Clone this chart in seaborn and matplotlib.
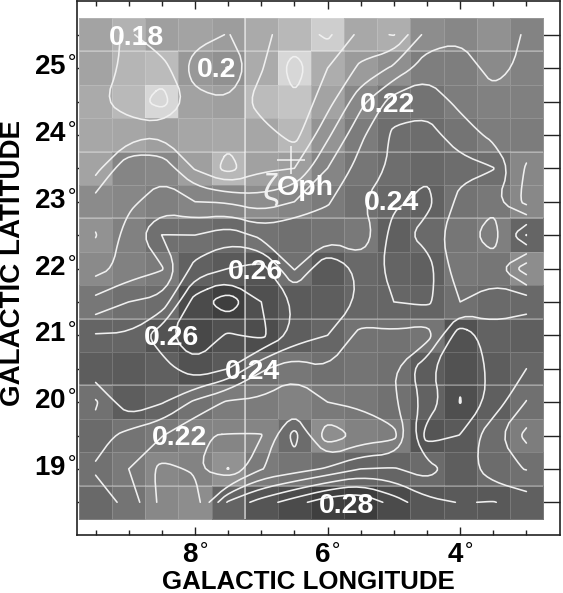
import numpy as np
import pandas as pd
import seaborn as sns
import matplotlib
matplotlib.use("Agg")
import matplotlib.pyplot as plt
from matplotlib.colors import LinearSegmentedColormap

lons = [9.5, 9.0, 8.5, 8.0, 7.5, 7.0, 6.5, 6.0, 5.5, 5.0, 4.5, 4.0, 3.5, 3.0]
lats = [25.5, 25.0, 24.5, 24.0, 23.5, 23.0, 22.5, 22.0, 21.5, 21.0, 20.5, 20.0, 19.5, 19.0, 18.5]

r255 = [.186, .178, .189, .186, .1905, .182, .176, .168, .183, .1795, .204, .208, .200, .212]
r250 = [.186, .177, .175, .195, .2005, .181, .165, .180, .192, .202, .216, .216, .206, .213]
r245 = [.182, .1755, .165, .187, .189, .175, .1715, .186, .207, .225, .227, .217, .214, .215]
r240 = [.184, .185, .189, .185, .183, .185, .176, .198, .218, .232, .233, .226, .217, .218]
r235 = [.186, .210, .207, .189, .176, .188, .190, .210, .224, .232, .238, .233, .2305, .2085]
r230 = [.205, .208, .2145, .210, .209, .204, .210, .219, .229, .238, .243, .227, .222, .207]
r225 = [.1995, .214, .2302, .230, .236, .227, .230, .226, .2213, .245, .2354, .224, .2155, .2405]
r220 = [.206, .214, .219, .244, .250, .255, .229, .250, .237, .2415, .245, .2225, .224, .204]
r215 = [.2235, .230, .233, .265, .277, .260, .249, .247, .2385, .240, .242, .230, .236, .2365]
r210 = [.2408, .241, .257, .268, .2585, .263, .2468, .240, .227, .228, .225, .2575, .243, .246]
r205 = [.248, .249, .245, .2573, .250, .2315, .2235, .2295, .226, .2295, .248, .258, .2476, .240]
r200 = [.2285, .248, .241, .228, .2185, .218, .2125, .220, .222, .2285, .2435, .2605, .246, .2295]
r195 = [.235, .226, .2205, .2105, .2095, .2095, .234, .2028, .2128, .2165, .2545, .2497, .2327, .2172]
r190 = [.2285, .220, .207, .2115, .1995, .2195, .225, .2315, .240, .241, .235, .247, .2335, .2295]
r185 = [.2365, .2265, .207, .204, .2415, .2545, .2655, .277, .280, .265, .253, .2495, .2505, .245]

rows = [r255, r250, r245, r240, r235, r230, r225, r220, r215, r210, r205, r200, r195, r190, r185]
levels = [.17, .18, .19, .20, .21, .22, .23, .24, .25, .26, .27]

label_text = ["0.18", "0.2", "0.22", "0.24", "0.26", "0.26", "0.24", "0.22", "0.28"]
label_lon = [8.88, 7.67, 5.09, 5.03, 7.08, 8.35, 7.13, 8.23, 5.71]
label_lat = [25.45, 24.97, 24.45, 22.98, 21.95, 20.96, 20.45, 19.46, 18.44]
lon_major = [8.0, 6.0, 4.0]
lat_major = [25.0, 24.0, 23.0, 22.0, 21.0, 20.0, 19.0]

sns.set_theme(style="white")
plt.rcParams["font.family"] = ["Liberation Sans", "DejaVu Sans"]

W, H = 563, 593
fig = plt.figure(figsize=(W / 100, H / 100), dpi=100)
ax = fig.add_axes([77 / W, 1 - 535 / H, (560 - 77) / W, (535 - 1) / H])

df = pd.DataFrame(rows, index=lats, columns=lons)
nodes = [(.165, 215), (.17, 200), (.18, 172), (.19, 158), (.20, 145), (.21, 133), (.22, 122),
         (.23, 112), (.24, 102), (.25, 90), (.26, 80), (.27, 70), (.28, 60), (.29, 50)]
vmin, vmax = nodes[0][0], nodes[-1][0]
cmap = LinearSegmentedColormap.from_list(
    "g", [((v - vmin) / (vmax - vmin), (g / 255,) * 3) for v, g in nodes])
sns.heatmap(df, ax=ax, cmap=cmap, vmin=vmin, vmax=vmax, cbar=False,
            linewidths=0.7, linecolor=(1, 1, 1, 0.16), square=False)

def cx(lon):
    return (lons[0] - np.asarray(lon)) / 0.5 + 0.5
def cy(lat):
    return (lats[0] - np.asarray(lat)) / 0.5 + 0.5

ax.set_xlim(-2 / 33.14, 14 + 17 / 33.14)
ax.set_ylim(15 + 16 / 33.4, -17 / 33.4)

ax.hlines([1, 4, 6, 9, 11, 14], 0, 14, color="white", alpha=0.3, lw=1.2, zorder=2)
ax.vlines([5], 0, 15, color="white", alpha=0.55, lw=1.3, zorder=2)

X, Y = np.meshgrid(cx(lons), cy(lats))
cs = ax.contour(X, Y, df.values, levels=levels, colors="#f0f0f0", linewidths=1.1, zorder=3)

def soften(p, passes=2):
    closed = np.allclose(p[0], p[-1]) and len(p) > 3
    for _ in range(passes):
        if closed:
            q = p[:-1]
            a = 0.75 * q + 0.25 * np.roll(q, -1, axis=0)
            b = 0.25 * q + 0.75 * np.roll(q, -1, axis=0)
            p = np.empty((2 * len(q), 2))
            p[0::2], p[1::2] = a, b
            p = np.vstack([p, p[:1]])
        else:
            a = 0.75 * p[:-1] + 0.25 * p[1:]
            b = 0.25 * p[:-1] + 0.75 * p[1:]
            m = np.empty((2 * len(a), 2))
            m[0::2], m[1::2] = a, b
            p = np.vstack([p[:1], m, p[-1:]])
    return p

# split each level's compound path at its MOVETO codes so that short open pieces survive
segments = []
for path in cs.get_paths():
    if len(path.vertices) == 0:
        continue
    starts = np.flatnonzero(path.codes == 1).tolist() + [len(path.vertices)]
    for a, b in zip(starts[:-1], starts[1:]):
        piece = path.vertices[a:b].copy()
        if path.codes[b - 1] == 79:
            piece[-1] = piece[0]
        segments.append(piece)
cs.remove()
for seg in segments:
    s = soften(np.asarray(seg))
    ax.plot(s[:, 0], s[:, 1], color="#f0f0f0", lw=1.15, zorder=3, solid_joinstyle="round")

for t, lo, la in zip(label_text, label_lon, label_lat):
    ax.text(cx(lo), cy(la), t, color="white", fontsize=20.5, fontweight="bold",
            ha="center", va="center", zorder=5)

ax.plot([cx(6.55)], [cy(23.62)], marker="+", ms=20, mew=1.1, color="#f4f4f4", zorder=5)
ax.text(cx(6.33), cy(23.20), "Oph", color="white", fontsize=20.5, fontweight="bold",
        ha="center", va="center", zorder=5)
ax.text(cx(6.86), cy(23.17), "ζ", color="#f0f0f0", fontsize=26,
        ha="center", va="center", zorder=5)

minor_x = [l for l in lons if l not in lon_major]
minor_y = [l for l in lats if l not in lat_major]
ax.set_xticks(cx(lon_major))
ax.set_xticklabels([f"{int(l)}" + r"$^{\circ}$" for l in lon_major], rotation=0)
ax.set_xticks(cx(minor_x), minor=True)
ax.set_yticks(cy(lat_major))
ax.set_yticklabels([f"{int(l)}" + r"$^{\circ}$" for l in lat_major], rotation=0)
ax.set_yticks(cy(minor_y), minor=True)

for lab in ax.get_xticklabels() + ax.get_yticklabels():
    lab.set_fontsize(20)
    lab.set_fontweight("bold")
    lab.set_color("black")

ax.tick_params(axis="x", which="major", direction="in", length=6, width=1, color="#222222",
               top=True, bottom=True, pad=6)
ax.tick_params(axis="x", which="minor", direction="in", length=3.8, width=1, color="#222222",
               top=True, bottom=True)
ax.tick_params(axis="y", which="major", direction="in", length=16.5, width=1, color="#222222",
               left=True, right=True, pad=0.5)
ax.tick_params(axis="y", which="minor", direction="in", length=12, width=1, color="#222222",
               left=True, right=True)
for s in ax.spines.values():
    s.set_visible(True)
    s.set_linewidth(1.2)
    s.set_color("#222222")

fig.text(308 / W, 1 - 582 / H, "GALACTIC LONGITUDE", fontsize=18.6, fontweight="bold",
         ha="center", va="center", color="black")
fig.text(13.5 / W, 1 - 263 / H, "GALACTIC LATITUDE", fontsize=20, fontweight="bold",
         rotation=90, ha="center", va="center", color="black")

fig.savefig("out.png", dpi=100, facecolor="white")
